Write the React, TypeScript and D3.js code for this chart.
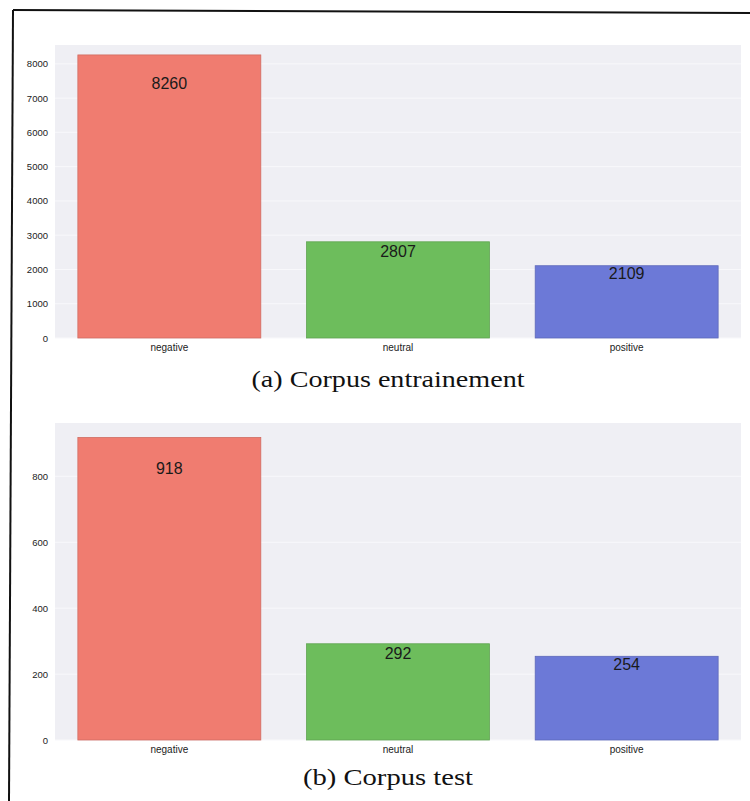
import * as d3 from 'd3';
import { useEffect, useRef } from 'react';

const categories = ['negative', 'neutral', 'positive'];
const trainCounts = [8260, 2807, 2109];
const testCounts = [918, 292, 254];
const trainTicks = [0, 1000, 2000, 3000, 4000, 5000, 6000, 7000, 8000];
const testTicks = [0, 200, 400, 600, 800];
const barColors = ['#f07c70', '#6dbd5c', '#6c79d7'];
const captions = ['(a) Corpus entrainement', '(b) Corpus test'];

const plotLeft = 55;
const plotRight = 741;

function Panel({ counts, ticks, yMax, top, bottom, caption, captionY, captionWidth }) {
  const ref = useRef(null);

  useEffect(() => {
    const g = d3.select(ref.current);
    g.selectAll('*').remove();

    const x = d3.scaleBand().domain(categories).range([plotLeft, plotRight])
      .paddingInner(0.2).paddingOuter(0.1);
    const y = d3.scaleLinear().domain([0, yMax]).range([bottom, top]);

    g.append('rect')
      .attr('x', plotLeft).attr('y', top)
      .attr('width', plotRight - plotLeft).attr('height', bottom - top)
      .attr('fill', '#efeff4');

    // faint white grid (seaborn darkgrid)
    g.selectAll('line.grid').data(ticks).enter().append('line')
      .attr('class', 'grid')
      .attr('x1', plotLeft).attr('x2', plotRight)
      .attr('y1', d => y(d)).attr('y2', d => y(d))
      .attr('stroke', '#f8f8fb').attr('stroke-width', 1);

    const yAxis = d3.axisLeft(y).tickValues(ticks).tickFormat(d3.format('d')).tickSize(0).tickPadding(7);
    const ya = g.append('g').attr('transform', `translate(${plotLeft},0)`).call(yAxis);
    ya.select('.domain').remove();
    ya.selectAll('text').attr('font-family', 'Liberation Sans, Arial, sans-serif')
      .attr('font-size', 9.5).attr('fill', '#222');

    const xAxis = d3.axisBottom(x).tickSize(0).tickPadding(6);
    const xa = g.append('g').attr('transform', `translate(0,${bottom})`).call(xAxis);
    xa.select('.domain').remove();
    xa.selectAll('text').attr('font-family', 'Liberation Sans, Arial, sans-serif')
      .attr('font-size', 10).attr('fill', '#222');

    g.selectAll('rect.bar').data(counts).enter().append('rect')
      .attr('class', 'bar')
      .attr('x', (d, i) => x(categories[i]))
      .attr('y', d => y(d))
      .attr('width', x.bandwidth())
      .attr('height', d => bottom - y(d))
      .attr('fill', (d, i) => barColors[i])
      .attr('stroke', (d, i) => d3.color(barColors[i]).darker(0.4).toString())
      .attr('stroke-width', 0.8);

    g.selectAll('text.val').data(counts).enter().append('text')
      .attr('class', 'val')
      .attr('x', (d, i) => x(categories[i]) + x.bandwidth() / 2)
      .attr('y', d => y(d * 0.9))
      .attr('dy', '0.36em')
      .attr('text-anchor', 'middle')
      .attr('font-family', 'Liberation Sans, Arial, sans-serif')
      .attr('font-size', 16)
      .attr('fill', '#1a1a1a')
      .text(d => d);

    g.append('text')
      .attr('x', 388).attr('y', captionY)
      .attr('text-anchor', 'middle')
      .attr('font-family', 'Liberation Serif, Times New Roman, serif')
      .attr('font-size', 24)
      .attr('textLength', captionWidth)
      .attr('lengthAdjust', 'spacingAndGlyphs')
      .attr('fill', '#111')
      .text(caption);
  }, [counts, ticks, yMax, top, bottom, caption, captionY, captionWidth]);

  return <g ref={ref}></g>;
}

export default function App() {
  return (
    <svg width={750} height={801} style={{ position: 'absolute', left: 0, top: 0, background: '#fff' }}>
      <line x1={13} y1={10} x2={750} y2={13} stroke="#111" strokeWidth={2} />
      <line x1={13} y1={10} x2={9} y2={801} stroke="#111" strokeWidth={2} />
      <Panel counts={trainCounts} ticks={trainTicks} yMax={8550} top={45} bottom={338}
        caption={captions[0]} captionY={387} captionWidth={273} />
      <Panel counts={testCounts} ticks={testTicks} yMax={962} top={423} bottom={740}
        caption={captions[1]} captionY={785} captionWidth={170} />
    </svg>
  );
}
